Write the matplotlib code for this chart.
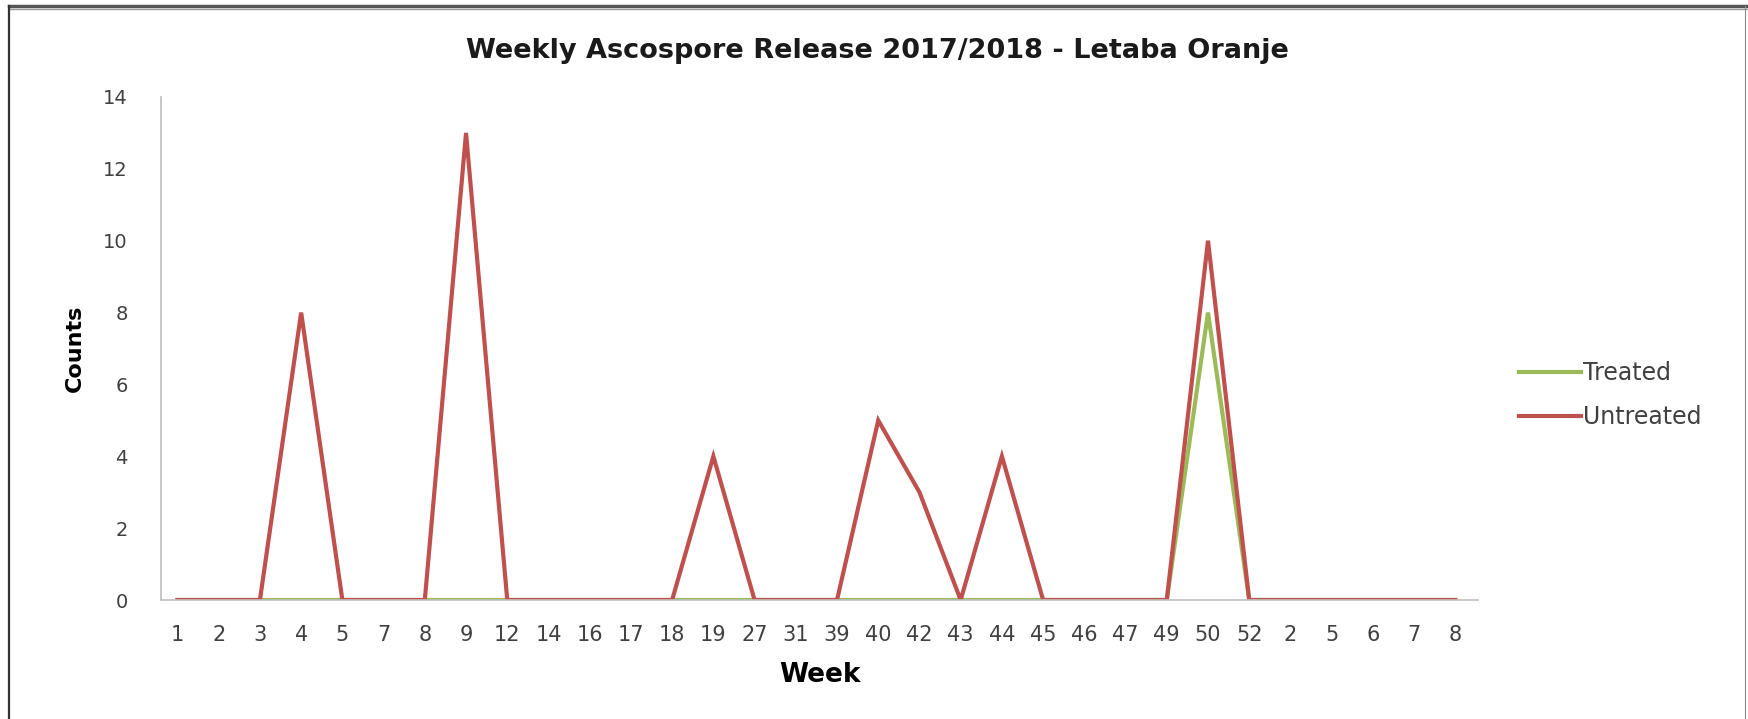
import matplotlib
matplotlib.use("Agg")
import matplotlib.pyplot as plt
from matplotlib.lines import Line2D
import numpy as np

# Week labels along the x axis (season runs over the year end)
weeks = ["1", "2", "3", "4", "5", "7", "8", "9", "12", "14", "16", "17", "18",
         "19", "27", "31", "39", "40", "42", "43", "44", "45", "46", "47", "49",
         "50", "52", "2", "5", "6", "7", "8"]

treated = [0, 0, 0, 0, 0, 0, 0, 0, 0, 0, 0, 0, 0, 0, 0, 0,
           0, 0, 0, 0, 0, 0, 0, 0, 0, 8, 0, 0, 0, 0, 0, 0]
untreated = [0, 0, 0, 8, 0, 0, 0, 13, 0, 0, 0, 0, 0, 4, 0, 0,
             0, 5, 3, 0, 4, 0, 0, 0, 0, 10, 0, 0, 0, 0, 0, 0]

y_ticks = [0, 2, 4, 6, 8, 10, 12, 14]

GREEN = "#9BBB59"
RED = "#C0504D"
AXIS_GREY = "#BFBFBF"
TEXT_GREY = "#404040"

W, H = 1748, 719
fig = plt.figure(figsize=(W / 100, H / 100), dpi=100)

# axes box in pixels
left, right, top, bottom = 161, 1478, 97, 600
ax = fig.add_axes([left / W, 1 - bottom / H, (right - left) / W, (bottom - top) / H])

x = np.arange(len(weeks))
ax.plot(x, treated, color=GREEN, lw=3.0, label="Treated", solid_joinstyle="miter")
ax.plot(x, untreated, color=RED, lw=3.0, label="Untreated", solid_joinstyle="miter")

ax.set_xlim(-0.4, len(weeks) - 0.45)
ax.set_ylim(0, 14)
ax.set_yticks(y_ticks)
ax.set_xticks(x)
ax.set_xticklabels(weeks, fontsize=15, color=TEXT_GREY)
for lab in ax.get_yticklabels():
    lab.set_fontsize(14)
    lab.set_color(TEXT_GREY)
ax.tick_params(axis="both", length=0)
ax.tick_params(axis="x", pad=18)
ax.tick_params(axis="y", pad=24)

for side in ["top", "right"]:
    ax.spines[side].set_visible(False)
for side in ["left", "bottom"]:
    ax.spines[side].set_color(AXIS_GREY)
    ax.spines[side].set_linewidth(1.2)

ax.set_xlabel("Week", fontsize=19, fontweight="bold", labelpad=12)
ax.set_ylabel("Counts", fontsize=16, fontweight="bold", labelpad=13)

fig.text(0.502, 1 - 51 / H, "Weekly Ascospore Release 2017/2018 - Letaba Oranje",
         ha="center", va="center", fontsize=19.5, fontweight="bold", color="#1a1a1a")

fig.legend(loc="center left", bbox_to_anchor=(1498 / W, 1 - 395 / H), frameon=False,
           fontsize=17, handlelength=2.6, handletextpad=0.1, labelspacing=0.85,
           labelcolor=TEXT_GREY)

# frame of the pasted chart image
fig.add_artist(Line2D([9 / W, 1], [1 - 6 / H] * 2, color="#555555", lw=2.5))
fig.add_artist(Line2D([9 / W, 1], [1 - 9 / H] * 2, color="#999999", lw=1.0))
fig.add_artist(Line2D([9 / W] * 2, [0, 1 - 6 / H], color="#333333", lw=1.6))
fig.add_artist(Line2D([1745 / W] * 2, [0, 1 - 6 / H], color="#888888", lw=0.8))

fig.savefig("out.png", dpi=100)
